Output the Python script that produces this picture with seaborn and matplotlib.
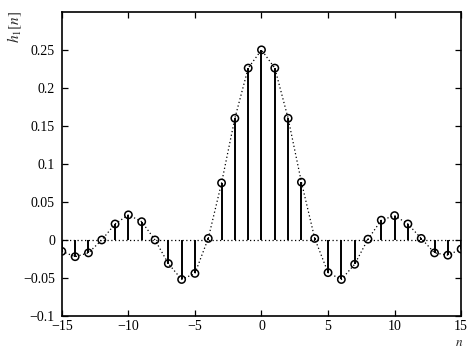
import numpy as np
import pandas as pd
import matplotlib
matplotlib.use("Agg")
import matplotlib.pyplot as plt
import seaborn as sns

n_values = list(range(-15, 16))
h_values = [-0.015, -0.022, -0.017, 0.0, 0.021, 0.033, 0.024, 0.0,
            -0.031, -0.052, -0.044, 0.002, 0.075, 0.160, 0.226, 0.250,
            0.226, 0.160, 0.076, 0.002, -0.043, -0.052, -0.032, 0.001,
            0.026, 0.032, 0.021, 0.002, -0.017, -0.020, -0.012]
x_ticks = [-15, -10, -5, 0, 5, 10, 15]
y_ticks = [-0.1, -0.05, 0, 0.05, 0.1, 0.15, 0.2, 0.25]
y_tick_labels = ["\u22120.1", "\u22120.05", "0", "0.05", "0.1", "0.15", "0.2", "0.25"]

df = pd.DataFrame({"n": n_values, "h": h_values})

sns.set_theme(style="ticks")
plt.rcParams["font.family"] = ["Liberation Serif", "DejaVu Serif"]
plt.rcParams["mathtext.fontset"] = "stix"

fig = plt.figure(figsize=(4.72, 3.48), dpi=100)
ax = fig.add_axes([0.131, 0.092, 0.846, 0.874])

# baseline dotted
ax.axhline(0, color="black", linestyle=(0, (1, 2)), linewidth=0.9, zorder=1)
# stems
ax.vlines(df["n"], 0, df["h"], color="black", linewidth=1.4, zorder=2)
# dotted envelope
sns.lineplot(data=df, x="n", y="h", ax=ax, color="black", linestyle=(0, (1, 2)),
             linewidth=0.9, zorder=2)
# hollow markers
sns.scatterplot(data=df, x="n", y="h", ax=ax, marker="o", s=28,
                facecolor="none", edgecolor="black", linewidth=1.1, zorder=3)

ax.set_xlim(-15, 15)
ax.set_ylim(-0.1, 0.3)
ax.set_xticks(x_ticks)
ax.set_xticklabels([("\u2212" + str(abs(t))) if t < 0 else str(t) for t in x_ticks])
ax.set_yticks(y_ticks)
ax.set_yticklabels(y_tick_labels)
ax.tick_params(direction="in", top=True, right=True, length=4, width=0.9,
               labelsize=10, colors="black")
ax.tick_params(axis="x", pad=3)
ax.tick_params(axis="y", pad=5)
for sp in ax.spines.values():
    sp.set_color("black")
    sp.set_linewidth(1.2)

ax.set_xlabel("$n$", fontsize=9.5)
ax.xaxis.set_label_coords(0.995, -0.068)
ax.set_ylabel("$h_1[n]$", fontsize=11)
ax.yaxis.set_label_coords(-0.095, 0.95)

fig.savefig("out.png", dpi=100, facecolor="white")
